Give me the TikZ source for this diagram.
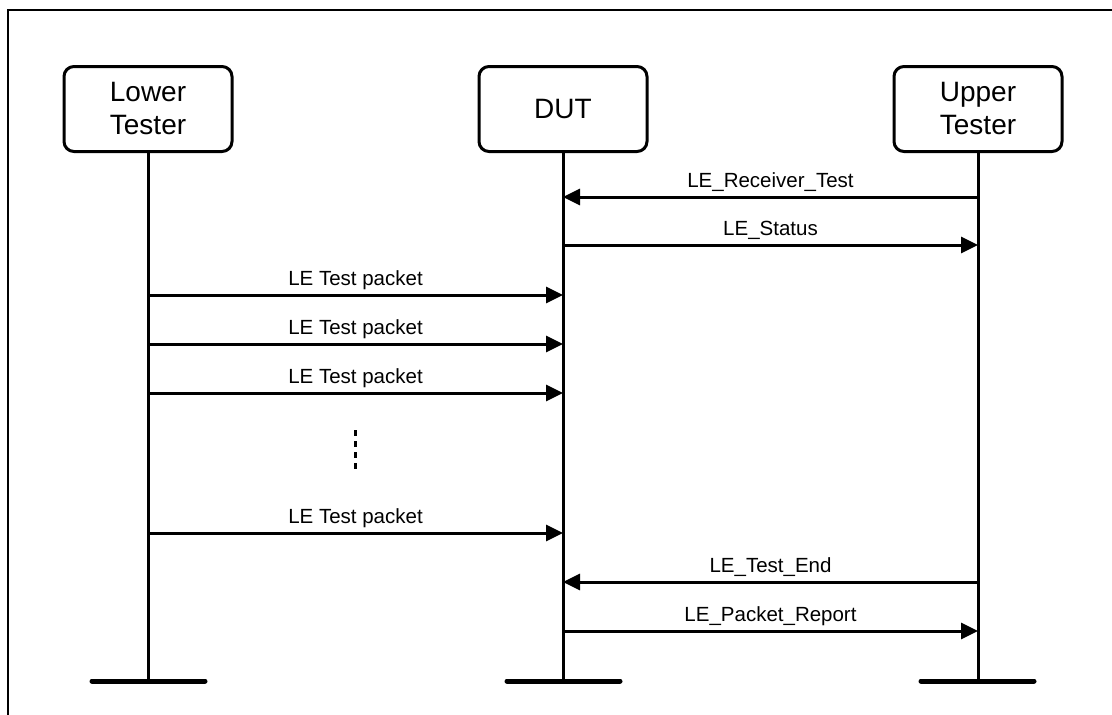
\documentclass[tikz,border=0pt]{standalone}
\usepackage{fontspec}
\setmainfont{Liberation Sans}
\usetikzlibrary{arrows.meta}
\begin{document}
\begin{tikzpicture}[x=1pt,y=-1pt,
  actor/.style={draw,line width=3pt,rounded corners=10pt,minimum width=168pt,minimum height=85pt,align=center,inner sep=0pt,font=\fontsize{28}{33}\selectfont},
  life/.style={line width=3pt},
  groundbar/.style={line width=5pt,line cap=round},
  msg/.style={line width=3pt,-{Triangle[length=17pt,width=16pt]}},
  lbl/.style={anchor=base,inner sep=0pt,font=\fontsize{20.5}{24}\selectfont},
  dots/.style={line width=3pt,dash pattern=on 6pt off 5pt}]
\useasboundingbox (0,0) rectangle (1112,715);
\draw[line width=2.5pt] (8,10) rectangle (1125,730);
% actors
\node[actor] (LT) at (148,109) {Lower\\Tester};
\node[actor] (DUT) at (563,109) {DUT};
\node[actor] (UT) at (978,109) {Upper\\Tester};
% lifeline ends
\coordinate (LTe) at (148,681);
\coordinate (DUTe) at (563,681);
\coordinate (UTe) at (978,681);
\draw[life] (LT.south) -- (LTe);
\draw[life] (DUT.south) -- (DUTe);
\draw[life] (UT.south) -- (UTe);
\coordinate (LTa) at (92,681); \coordinate (LTb) at (205,681);
\coordinate (DUTa) at (507,681); \coordinate (DUTb) at (620,681);
\coordinate (UTa) at (921,681); \coordinate (UTb) at (1034,681);
\draw[groundbar] (LTa) -- (LTb);
\draw[groundbar] (DUTa) -- (DUTb);
\draw[groundbar] (UTa) -- (UTb);
% message endpoints
\foreach \n/\y in {1/197,2/245,3/295,4/344,5/393,6/533,7/582,8/631}{
  \coordinate (L\n) at (148,\y);
  \coordinate (D\n) at (563,\y);
  \coordinate (U\n) at (978,\y);
}
\draw[msg] (U1) -- (D1) node[lbl,pos=0.5,yshift=10pt] (m1) {LE\_Receiver\_Test};
\draw[msg] (D2) -- (U2) node[lbl,pos=0.5,yshift=10pt] (m2) {LE\_Status};
\draw[msg] (L3) -- (D3) node[lbl,pos=0.5,yshift=10pt] (m3) {LE Test packet};
\draw[msg] (L4) -- (D4) node[lbl,pos=0.5,yshift=10pt] (m4) {LE Test packet};
\draw[msg] (L5) -- (D5) node[lbl,pos=0.5,yshift=10pt] (m5) {LE Test packet};
\draw[msg] (L6) -- (D6) node[lbl,pos=0.5,yshift=10pt] (m6) {LE Test packet};
\draw[msg] (U7) -- (D7) node[lbl,pos=0.5,yshift=10pt] (m7) {LE\_Test\_End};
\draw[msg] (D8) -- (U8) node[lbl,pos=0.5,yshift=10pt] (m8) {LE\_Packet\_Report};
% continuation dots
\coordinate (c1) at (355,430);
\coordinate (c2) at (355,471);
\draw[dots] (c1) -- (c2);
\end{tikzpicture}
\end{document}
